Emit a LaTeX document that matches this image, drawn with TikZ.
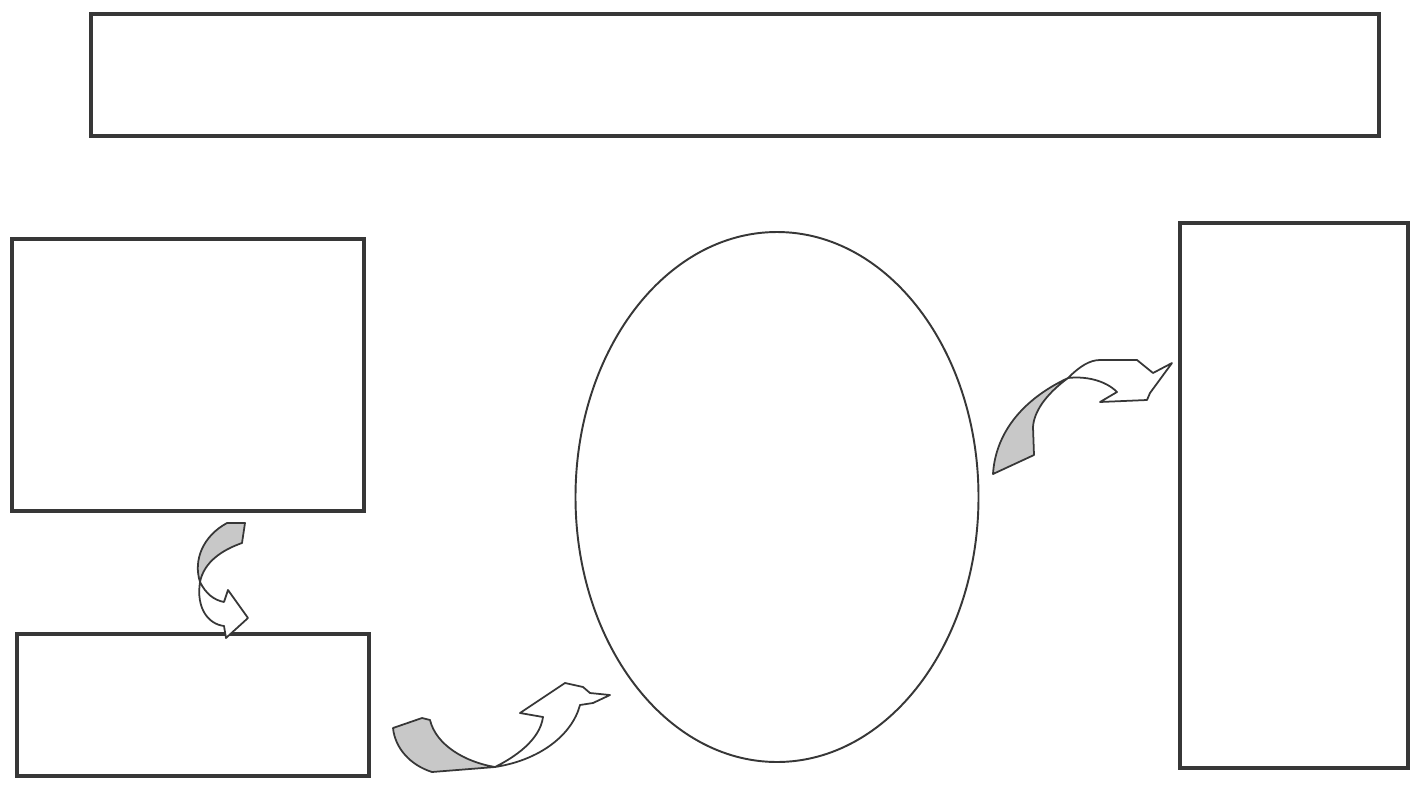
\documentclass[tikz,border=0pt]{standalone}
\usepackage{tikz}
\usetikzlibrary{shapes.geometric}

\definecolor{edgegray}{RGB}{55,55,55}
\definecolor{shadegray}{RGB}{200,200,200}

\tikzset{
  box/.style={draw=edgegray, line width=1pt, inner sep=0pt, outer sep=0pt},
  ring/.style={ellipse, draw=edgegray, line width=0.55pt, inner sep=0pt},
  backface/.style={draw=edgegray, fill=shadegray, line width=0.5pt, line join=round},
  frontface/.style={draw=edgegray, fill=white, line width=0.5pt, line join=round}
}

\begin{document}
\begin{tikzpicture}[x=0.1mm, y=-0.1mm]
  \useasboundingbox (0, 0) rectangle (1410, 784);

  % boxes and ring
  \node[box, minimum width=128.8mm, minimum height=12.2mm] (banner) at (735, 75) {};
  \node[box, minimum width=35.2mm, minimum height=27.2mm] (upperleft) at (188, 375) {};
  \node[box, minimum width=35.2mm, minimum height=14.2mm] (lowerleft) at (193, 705) {};
  \node[ring, minimum width=40.3mm, minimum height=53mm] (cycle) at (777, 497) {};
  \node[box, minimum width=22.8mm, minimum height=54.5mm] (rightcol) at (1294, 495.5) {};

  % curved arrow: upper left box down to lower left box
  \draw[backface] (227, 523) -- (245, 523) -- (242, 543)
    .. controls (222, 550) and (204, 562) .. (200, 582)
    .. controls (193, 560) and (203, 536) .. cycle;
  \draw[frontface] (200, 582) .. controls (206, 594) and (214, 600) .. (224, 602)
    -- (228, 590) -- (248, 618) -- (226, 638) -- (224, 626)
    .. controls (208, 624) and (196, 608) .. cycle;

  % curved arrow: lower left box up to the ring
  \draw[backface] (393, 728) -- (422, 718) -- (430, 720)
    .. controls (436, 745) and (465, 762) .. (495, 767)
    -- (432, 772) .. controls (410, 765) and (395, 748) .. cycle;
  \draw[frontface] (495, 767) .. controls (515, 757) and (540, 740) .. (543, 717)
    -- (520, 713) -- (565, 683) -- (583, 687) -- (590, 693) -- (610, 695)
    -- (593, 703) -- (580, 705)
    .. controls (572, 735) and (540, 760) .. cycle;

  % curved arrow: ring over to right column
  \draw[backface] (993, 474) .. controls (995, 440) and (1015, 403) .. (1068, 378)
    .. controls (1045, 395) and (1034, 412) .. (1033, 427)
    -- (1034, 455) -- cycle;
  \draw[frontface] (1068, 378) .. controls (1080, 366) and (1090, 360) .. (1100, 360)
    -- (1137, 360) -- (1153, 373) -- (1172, 363) -- (1150, 393) -- (1147, 400)
    -- (1100, 402) -- (1117, 392)
    .. controls (1105, 380) and (1085, 376) .. cycle;
\end{tikzpicture}
\end{document}
